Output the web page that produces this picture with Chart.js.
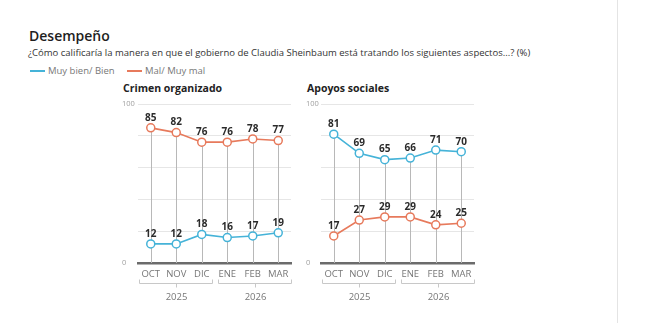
<!DOCTYPE html>
<html>
<head>
<meta charset="utf-8">
<script src="https://cdn.jsdelivr.net/npm/chart.js@4.4.1/dist/chart.umd.min.js"></script>
<style>
  body { margin: 0; background: #fff; font-family: "Open Sans", sans-serif; }
  #wrap { position: relative; width: 660px; height: 323px; overflow: hidden; }
  .t { position: absolute; white-space: nowrap; }
  .panel { position: absolute; width: 200px; height: 225px; }
  .key { position: absolute; height: 1.5px; width: 15px; top: 70px; }
</style>
</head>
<body>
<div id="wrap">
  <div class="t" style="left:29px;top:26px;font-size:14px;font-weight:600;color:#1e1e1e">Desempeño</div>
  <div class="t" style="left:28px;top:46px;font-size:9.5px;color:#333">¿Cómo calificaría la manera en que el gobierno de Claudia Sheinbaum está tratando los siguientes aspectos...? (%)</div>
  <div class="key" style="left:30px;background:#45b3d8"></div>
  <div class="t" style="left:48px;top:64px;font-size:9.5px;color:#777">Muy bien/ Bien</div>
  <div class="key" style="left:127px;background:#e77a5c"></div>
  <div class="t" style="left:145px;top:64px;font-size:9.5px;color:#777">Mal/ Muy mal</div>
  <div class="t" style="left:123px;top:81px;font-size:10.5px;font-weight:700;color:#222">Crimen organizado</div>
  <div class="t" style="left:307px;top:81px;font-size:10.5px;font-weight:700;color:#222">Apoyos sociales</div>
  <div style="position:absolute;left:617px;top:0;width:1px;height:323px;background:#e4e4e4"></div>
  <div class="panel" style="left:100px;top:90px"><canvas id="c1" width="200" height="225"></canvas></div>
  <div class="panel" style="left:285px;top:90px"><canvas id="c2" width="200" height="225"></canvas></div>
</div>
<script>
const months = ['OCT', 'NOV', 'DIC', 'ENE', 'FEB', 'MAR'];
const years = [{ label: '2025', from: 0, to: 2 }, { label: '2026', from: 3, to: 5 }];

const crimenBien = [12, 12, 18, 16, 17, 19];
const crimenMal = [85, 82, 76, 76, 78, 77];
const apoyosBien = [81, 69, 65, 66, 71, 70];
const apoyosMal = [17, 27, 29, 29, 24, 25];

const BLUE = '#45b3d8';
const ORANGE = '#e77a5c';

const extras = {
    id: 'extras',
    beforeDatasetsDraw(chart) {
        // vertical drop lines from the highest point to the axis
        const { ctx, chartArea, scales: { x, y } } = chart;
        ctx.save();
        ctx.strokeStyle = '#b8b8b8';
        ctx.lineWidth = 1;
        months.forEach((m, i) => {
            const top = Math.max(...chart.data.datasets.map(d => d.data[i]));
            const px = Math.round(x.getPixelForValue(i)) + 0.5;
            ctx.beginPath();
            ctx.moveTo(px, y.getPixelForValue(top));
            ctx.lineTo(px, chartArea.bottom);
            ctx.stroke();
        });
        ctx.restore();
    },
    afterDatasetsDraw(chart) {
        // value labels above each point
        const { ctx } = chart;
        ctx.save();
        ctx.font = 'bold 10px "Open Sans"';
        ctx.fillStyle = '#2b2b2b';
        ctx.textAlign = 'center';
        ctx.textBaseline = 'middle';
        chart.data.datasets.forEach((ds, di) => {
            chart.getDatasetMeta(di).data.forEach((pt, i) => {
                ctx.fillText(ds.data[i], pt.x, pt.y - 10);
            });
        });
        ctx.restore();
    },
    afterDraw(chart) {
        // year brackets under the month labels
        const { ctx, chartArea, scales: { x } } = chart;
        const step = x.getPixelForValue(1) - x.getPixelForValue(0);
        const yb = chartArea.bottom + 20.5;
        ctx.save();
        ctx.strokeStyle = '#c8c8c8';
        ctx.lineWidth = 1;
        ctx.fillStyle = '#777';
        ctx.font = '9.5px "Open Sans"';
        ctx.textAlign = 'center';
        ctx.textBaseline = 'middle';
        years.forEach((g, gi) => {
            const l = Math.round(x.getPixelForValue(g.from) - step / 2 + (gi === 0 ? 1 : 3)) + 0.5;
            const r = Math.round(x.getPixelForValue(g.to) + step / 2 - (gi === 0 ? 3 : 0)) + 0.5;
            const c = Math.round((l + r) / 2) + 0.5;
            ctx.beginPath();
            ctx.moveTo(l, yb - 4); ctx.lineTo(l, yb); ctx.lineTo(r, yb); ctx.lineTo(r, yb - 4);
            ctx.moveTo(c, yb); ctx.lineTo(c, yb + 4);
            ctx.stroke();
            ctx.fillText(g.label, c, chartArea.bottom + 34);
        });
        ctx.restore();
    }
};

function makePanel(id, bien, mal, padLeft, axisWidth, padRight) {
    new Chart(document.getElementById(id), {
        type: 'line',
        data: {
            labels: months,
            datasets: [
                { label: 'Mal/ Muy mal', data: mal, borderColor: ORANGE },
                { label: 'Muy bien/ Bien', data: bien, borderColor: BLUE }
            ].map(d => Object.assign(d, {
                borderWidth: 1.6,
                pointRadius: 4,
                pointBorderWidth: 1.5,
                pointBackgroundColor: '#fff',
                pointBorderColor: d.borderColor,
                tension: 0
            }))
        },
        options: {
            responsive: false,
            animation: false,
            layout: { padding: { left: padLeft, right: padRight, top: 14, bottom: 0 } },
            plugins: { legend: { display: false }, tooltip: { enabled: false } },
            scales: {
                x: {
                    offset: true,
                    grid: { display: false, drawTicks: false },
                    border: { display: true, color: '#6b6b6b', width: 2.5 },
                    ticks: { color: '#777', font: { family: 'Open Sans', size: 9.5 }, padding: 6, maxRotation: 0, autoSkip: false },
                    afterFit(s) { s.height = 52; }
                },
                y: {
                    min: 0, max: 100,
                    grid: { color: '#e6e6e6', drawTicks: false, lineWidth: 1 },
                    border: { display: false },
                    ticks: {
                        stepSize: 20,
                        crossAlign: 'far',
                        padding: 0,
                        color: '#a0a0a0',
                        font: { family: 'Open Sans', size: 7.5 },
                        callback: v => (v === 0 || v === 100) ? v : ''
                    },
                    afterFit(s) { s.width = axisWidth; }
                }
            }
        },
        plugins: [extras]
    });
}

makePanel('c1', crimenBien, crimenMal, 22, 16, 9);
makePanel('c2', apoyosBien, apoyosMal, 21, 15, 11);
</script>
</body>
</html>
